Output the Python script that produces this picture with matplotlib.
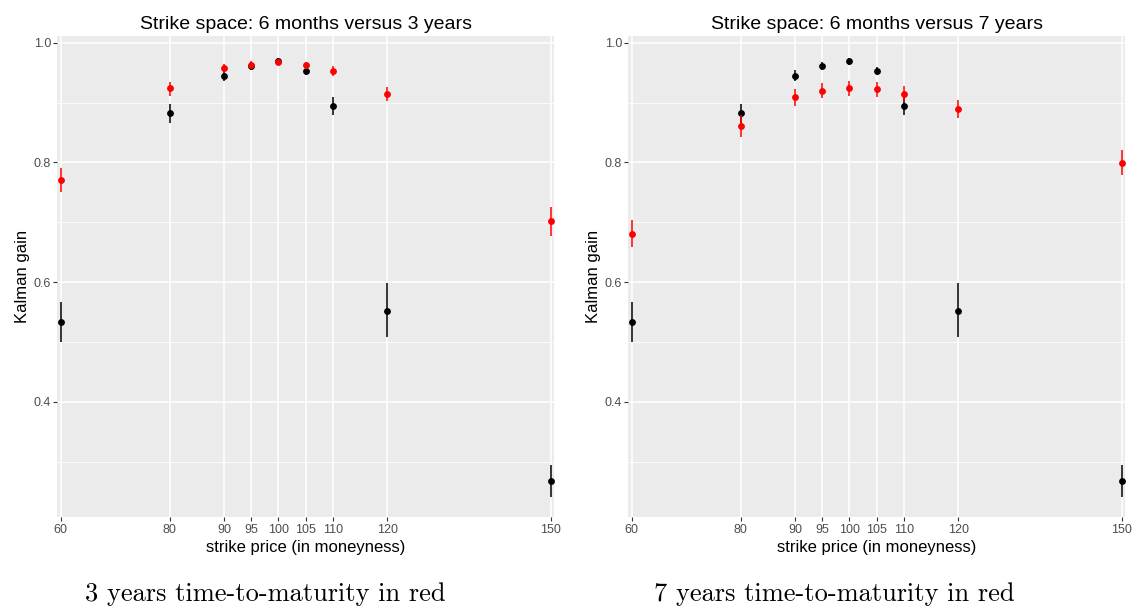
import numpy as np
import matplotlib
matplotlib.use("Agg")
from matplotlib import pyplot as plt

# strike grid (moneyness) and Kalman gains with interval bounds
strikes = [60, 80, 90, 95, 100, 105, 110, 120, 150]

gain_6m = [0.533, 0.882, 0.945, 0.961, 0.969, 0.953, 0.894, 0.552, 0.268]
lo_6m = [0.499, 0.865, 0.936, 0.954, 0.963, 0.946, 0.879, 0.508, 0.241]
hi_6m = [0.566, 0.897, 0.954, 0.967, 0.974, 0.959, 0.909, 0.598, 0.294]

gain_3y = [0.770, 0.924, 0.957, 0.963, 0.967, 0.962, 0.953, 0.915, 0.702]
lo_3y = [0.751, 0.911, 0.950, 0.957, 0.962, 0.956, 0.945, 0.903, 0.677]
hi_3y = [0.790, 0.935, 0.964, 0.969, 0.972, 0.968, 0.961, 0.926, 0.726]

gain_7y = [0.681, 0.860, 0.909, 0.920, 0.924, 0.923, 0.915, 0.890, 0.799]
lo_7y = [0.659, 0.843, 0.895, 0.908, 0.911, 0.910, 0.903, 0.874, 0.779]
hi_7y = [0.704, 0.879, 0.922, 0.933, 0.936, 0.935, 0.928, 0.905, 0.820]

titles = ["Strike space: 6 months versus 3 years",
          "Strike space: 6 months versus 7 years"]
captions = ["3 years time-to-maturity in red",
            "7 years time-to-maturity in red"]

W, H = 1137, 611
fig = plt.figure(figsize=(W / 100, H / 100), dpi=100)
plt.rcParams['font.family'] = ['Liberation Sans', 'DejaVu Sans']


def px_axes(x0, x1, y0, y1):
    return fig.add_axes([x0 / W, 1 - y1 / H, (x1 - x0) / W, (y1 - y0) / H])


def panel(ax, g, lo, hi, title):
    ax.set_facecolor('#EBEBEB')
    for s in ax.spines.values():
        s.set_visible(False)
    ax.set_xlim(59.37, 150.66)
    ax.set_ylim(0.2068, 1.0112)
    ax.set_xticks(strikes)
    ax.set_xticklabels([str(s) for s in strikes])
    ax.set_yticks([0.4, 0.6, 0.8, 1.0])
    ax.set_yticklabels(['0.4', '0.6', '0.8', '1.0'])
    ax.set_yticks([0.3, 0.5, 0.7, 0.9], minor=True)
    ax.grid(True, which='major', color='white', linewidth=1.1)
    ax.grid(True, which='minor', axis='y', color='white', linewidth=0.55)
    ax.tick_params(which='major', length=3, width=0.8, color='#333333',
                   labelsize=9, labelcolor='#4D4D4D', pad=1.5)
    ax.tick_params(which='minor', length=0)
    ax.set_axisbelow(True)

    g6 = np.array(gain_6m)
    ax.errorbar(strikes, g6, yerr=[g6 - np.array(lo_6m), np.array(hi_6m) - g6],
                fmt='o', color='black', ms=3.9, elinewidth=1.1, capsize=0, zorder=3)
    g2 = np.array(g)
    ax.errorbar(strikes, g2, yerr=[g2 - np.array(lo), np.array(hi) - g2],
                fmt='o', color='red', ms=3.9, elinewidth=1.1, capsize=0, zorder=4)

    ax.set_title(title, fontsize=14, pad=5)
    ax.set_xlabel('strike price (in moneyness)', fontsize=12, labelpad=3)
    ax.set_ylabel('Kalman gain', fontsize=12, labelpad=3)


ax1 = px_axes(57.3, 554.3, 36, 517.3)
panel(ax1, gain_3y, lo_3y, hi_3y, titles[0])
ax2 = px_axes(628.3, 1125.3, 36, 517.3)
panel(ax2, gain_7y, lo_7y, hi_7y, titles[1])

fig.text(265 / W, 1 - 600.5 / H, captions[0], family='cmr10', fontsize=19,
         ha='center', va='baseline')
fig.text(834 / W, 1 - 600.5 / H, captions[1], family='cmr10', fontsize=19,
         ha='center', va='baseline')

plt.savefig('out.png', dpi=100)
